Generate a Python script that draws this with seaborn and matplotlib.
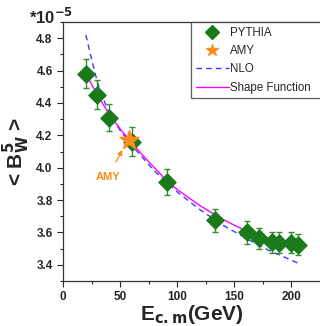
import matplotlib
matplotlib.use("Agg")
import matplotlib.pyplot as plt
import seaborn as sns
import pandas as pd
from matplotlib.lines import Line2D

# PYTHIA points (units of 1e-5)
pythia_e = [20, 29.5, 40, 60, 91.2, 133, 161, 172, 183, 189, 200, 206]
pythia_b = [4.58, 4.45, 4.31, 4.16, 3.91, 3.675, 3.60, 3.565, 3.54, 3.535, 3.535, 3.525]
pythia_err = [0.09, 0.09, 0.085, 0.09, 0.08, 0.07, 0.07, 0.065, 0.065, 0.065, 0.065, 0.065]

# AMY point
amy_e = [57.5]
amy_b = [4.17]

nlo_e = [20, 25, 30, 35, 40, 50, 60, 80, 100, 120, 140, 160, 180, 206]
nlo_b = [4.82, 4.67, 4.53, 4.43, 4.345, 4.23, 4.14, 3.98, 3.85, 3.74, 3.645, 3.565, 3.49, 3.41]

shape_e = [20, 30, 40, 50, 60, 70, 80, 90, 100, 120, 140, 160, 180, 206]
shape_b = [4.58, 4.45, 4.335, 4.24, 4.155, 4.075, 4.0, 3.925, 3.865, 3.765, 3.68, 3.61, 3.56, 3.505]

green = "#1a7a1a"
orange = "#ff8a1e"
blue = "#3a3aff"
magenta = "#ff00ff"

sns.set_style("ticks")
plt.rcParams['font.family'] = ['Liberation Sans', 'DejaVu Sans']

fig = plt.figure(figsize=(3.2, 3.26), dpi=100)
ax = fig.add_axes([0.197, 0.138, 0.803, 0.7945])

nlo_df = pd.DataFrame({"E": nlo_e, "B": nlo_b})
shape_df = pd.DataFrame({"E": shape_e, "B": shape_b})
sns.lineplot(data=nlo_df, x="E", y="B", ax=ax, color=blue, lw=1.0,
             linestyle=(0, (4, 3)), zorder=2)
sns.lineplot(data=shape_df, x="E", y="B", ax=ax, color=magenta, lw=1.0, zorder=3)

ax.errorbar(pythia_e, pythia_b, yerr=pythia_err, fmt="none", ecolor="#2f8f2f",
            elinewidth=1.0, capsize=2.5, capthick=1.0, zorder=4)
py_df = pd.DataFrame({"E": pythia_e, "B": pythia_b})
sns.scatterplot(data=py_df, x="E", y="B", ax=ax, marker="D", s=80, color=green,
                edgecolor=green, zorder=5)
amy_df = pd.DataFrame({"E": amy_e, "B": amy_b})
sns.scatterplot(data=amy_df, x="E", y="B", ax=ax, marker="*", s=200, color=orange,
                edgecolor=orange, zorder=6)

ax.annotate("AMY", xy=(52, 4.11), xytext=(39, 3.94), color=orange, fontsize=8,
            fontweight="bold", ha="center", va="center",
            arrowprops=dict(arrowstyle="-|>", color=orange, lw=1.0,
                            mutation_scale=7, shrinkA=6, shrinkB=0))

ax.set_xlim(0, 223.5)
ax.set_ylim(3.3, 4.9)
ax.set_xticks([0, 50, 100, 150, 200])
ax.set_xticks([25, 75, 125, 175, 225], minor=True)
ax.set_yticks([3.4, 3.6, 3.8, 4.0, 4.2, 4.4, 4.6, 4.8])
ax.set_yticks([3.3, 3.5, 3.7, 3.9, 4.1, 4.3, 4.5, 4.7, 4.9], minor=True)
ax.set_yticklabels(["3.4", "3.6", "3.8", "4.0", "4.2", "4.4", "4.6", "4.8"])
ax.tick_params(which="major", direction="out", length=4, width=0.8, labelsize=8.5)
ax.tick_params(which="minor", direction="out", length=2.5, width=0.8)
for lab in ax.get_xticklabels() + ax.get_yticklabels():
    lab.set_fontweight("bold")

for side in ["left", "bottom", "top"]:
    ax.spines[side].set_visible(True)
    ax.spines[side].set_color("#333333")
    ax.spines[side].set_linewidth(0.9)
ax.spines["right"].set_visible(False)

ax.set_xlabel(r"E$_{\mathbf{c.m}}$(GeV)", fontsize=15, fontweight="bold", labelpad=0)
ax.set_ylabel(r"< B$_{\mathbf{W}}^{\mathbf{5}}$ >", fontsize=15, fontweight="bold",
              labelpad=3)
fig.text(0.228, 0.948, r"*10$^{\mathbf{-5}}$", fontsize=12, fontweight="bold",
         va="center", ha="right")

handles = [
    Line2D([], [], marker="D", color=green, linestyle="none", markersize=7),
    Line2D([], [], marker="*", color=orange, linestyle="none", markersize=9),
    Line2D([], [], color=blue, linestyle=(0, (4, 3)), lw=1.0),
    Line2D([], [], color=magenta, lw=1.0),
]
labels = ["PYTHIA", "AMY", "NLO", "Shape Function"]
leg = ax.legend(handles, labels, loc="upper left", bbox_to_anchor=(0.498, 1.0, 0.58, 0),
                mode="expand", frameon=True, fancybox=False,
                edgecolor="#333333", handlelength=2.9, handletextpad=0.1,
                labelspacing=0.55, borderpad=0.4, borderaxespad=0,
                prop={"size": 8.3})
leg.get_frame().set_linewidth(0.9)

fig.savefig("out.png", dpi=100)
